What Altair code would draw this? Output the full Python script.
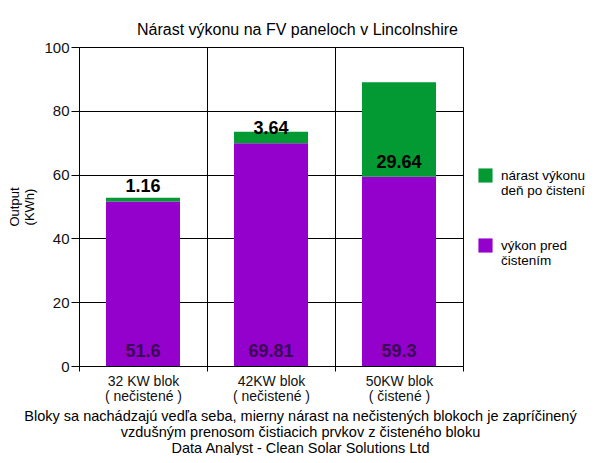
import altair as alt
import pandas as pd

categories = ["32 KW blok|(   nečistené  )", "42KW blok|(    nečistené  )", "50KW blok|(  čistené )"]
base_values = [51.6, 69.81, 59.3]
increase_values = [1.16, 3.64, 29.64]
series_names = ["nárast výkonu|deň po čistení", "výkon pred|čistením"]
series_colors = ["#039933", "#9400cc"]

rows = []
for c, b, inc in zip(categories, base_values, increase_values):
    rows.append({"blok": c, "serie": series_names[1], "value": b, "ord": 0, "base": b, "inc": inc})
    rows.append({"blok": c, "serie": series_names[0], "value": inc, "ord": 1, "base": b, "inc": inc})
df = pd.DataFrame(rows)
lab = pd.DataFrame({"blok": categories, "base": base_values, "inc": increase_values})

FONT = "Liberation Sans"

x_enc = alt.X(
    "blok:N",
    sort=categories,
    scale=alt.Scale(paddingInner=0, paddingOuter=0),
    axis=alt.Axis(
        labelExpr="split(datum.label, '|')",
        labelAngle=0,
        labelFontSize=14,
        labelColor="#111",
        labelFont=FONT,
        labelPadding=3,
        labelLineHeight=15,
        tickBand="extent",
        grid=True,
        gridColor="#000",
        gridOpacity=1,
        domainColor="#000",
        tickColor="#000",
        tickSize=5,
        title=["Bloky sa nachádzajú vedľa seba, mierny nárast na nečistených blokoch je zapríčinený",
               "vzdušným prenosom čistiacich prvkov z čisteného bloku",
               "Data Analyst - Clean Solar Solutions Ltd"],
        titleFontSize=14.5,
        titleFontWeight="normal",
        titleFont=FONT,
        titleColor="#000",
        titleLineHeight=16,
        titlePadding=6,
        titleX=221,
    ),
)

bars = alt.Chart(df).mark_bar(size=74).encode(
    x=x_enc,
    y=alt.Y(
        "value:Q",
        stack="zero",
        scale=alt.Scale(domain=[0, 100], nice=False),
        axis=alt.Axis(
            values=list(range(0, 101, 10)),
            labelExpr="datum.value % 20 == 0 ? datum.label : ''",
            labelFontSize=15,
            labelFont=FONT,
            labelColor="#111",
            gridColor={"condition": {"test": "datum.value % 20 == 0", "value": "#000"}, "value": "#b4b4b4"},
            gridOpacity=1,
            tickOpacity={"condition": {"test": "datum.value % 20 == 0", "value": 1}, "value": 0},
            tickColor="#000",
            tickSize=8,
            domainColor="#000",
            title=["Output", "(KWh)"],
            titleFontSize=13,
            titleFontWeight="normal",
            titleFont=FONT,
            titleColor="#000",
            titlePadding=7,
        ),
    ),
    color=alt.Color(
        "serie:N",
        scale=alt.Scale(domain=series_names, range=series_colors),
        legend=alt.Legend(
            title=None,
            orient="none",
            legendX=399,
            legendY=121,
            labelExpr="split(datum.label, '|')",
            labelFontSize=13.5,
            labelFont=FONT,
            labelColor="#000",
            labelOffset=8,
            symbolType="square",
            symbolSize=200,
            symbolStrokeWidth=0,
            rowPadding=40,
            labelLimit=200,
        ),
    ),
    order=alt.Order("ord:Q"),
)

top_labels = alt.Chart(lab).mark_text(
    fontSize=18, fontWeight="bold", font=FONT, color="#000", dy=-14, baseline="middle"
).encode(
    x=alt.X("blok:N", sort=categories),
    y=alt.Y("base:Q"),
    text=alt.Text("inc:Q"),
)

bottom_labels = alt.Chart(lab).mark_text(
    fontSize=18, fontWeight="bold", font=FONT, color="#3b0a55", dy=-14, baseline="middle"
).encode(
    x=alt.X("blok:N", sort=categories),
    y=alt.datum(0),
    text=alt.Text("base:Q"),
)

chart = alt.layer(bars, top_labels, bottom_labels).properties(
    width=384,
    height=319,
    title=alt.TitleParams(
        "Nárast výkonu na FV paneloch v Lincolnshire",
        fontSize=16,
        fontWeight="normal",
        font=FONT,
        color="#000",
        anchor="middle",
        frame="bounds",
        offset=2,
    ),
    padding={"left": 0, "top": 14, "right": 5, "bottom": 0},
).configure_view(stroke="#000", strokeWidth=1).configure(background="white")

chart.save("out.html", embed_options={"renderer": "svg", "actions": False})
